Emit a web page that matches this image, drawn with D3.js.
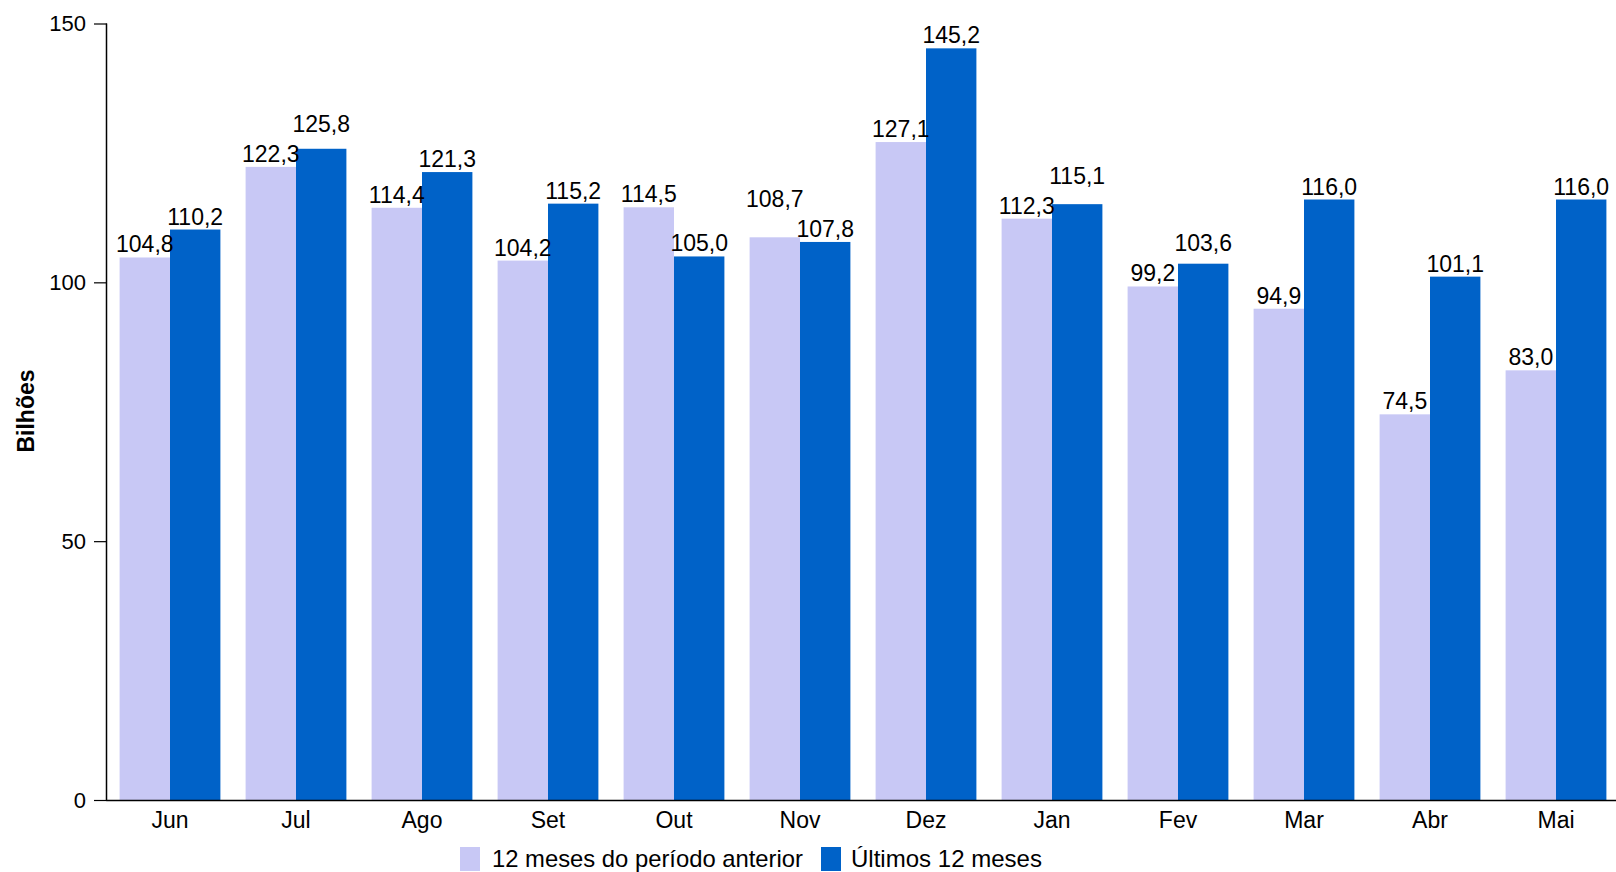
<!DOCTYPE html>
<html><head><meta charset="utf-8">
<script src="https://cdn.jsdelivr.net/npm/d3@7"></script>
<style>html,body{margin:0;padding:0;background:#fff;}svg{display:block;font-family:"Liberation Sans",Arial,sans-serif;}</style>
</head><body>
<svg id="c" width="1616" height="872"></svg>
<script>
const categories = ["Jun","Jul","Ago","Set","Out","Nov","Dez","Jan","Fev","Mar","Abr","Mai"];
const seriesNames = ["12 meses do período anterior","Últimos 12 meses"];
const previousValues = [104.8,122.3,114.4,104.2,114.5,108.7,127.1,112.3,99.2,94.9,74.5,83.0];
const lastValues = [110.2,125.8,121.3,115.2,105.0,107.8,145.2,115.1,103.6,116.0,101.1,116.0];
const yTicks = [0,50,100,150];
const colors = ["#c8c8f5","#0062c8"];

const svg = d3.select("#c");
const FONT = "Liberation Sans, Arial, sans-serif";
const x0 = 107, x1 = 1619, yTop = 23.5, yBot = 800;
const x = d3.scaleBand().domain(categories).range([x0, x1]).paddingInner(0.2).paddingOuter(0.1);
const xs = d3.scaleBand().domain([0,1]).range([0, x.bandwidth()]);
const y = d3.scaleLinear().domain([0,150]).range([yBot, yTop]);
const fmt = v => d3.format(".1f")(v).replace(".", ",");

const series = [previousValues, lastValues];
series.forEach((vals, si) => {
  svg.append("g").selectAll("rect").data(vals).join("rect")
    .attr("x", (d,i) => x(categories[i]) + xs(si))
    .attr("y", d => y(d))
    .attr("width", xs.bandwidth())
    .attr("height", d => y(0) - y(d))
    .attr("fill", colors[si]);
});

// value labels with simple collision avoidance: the higher label of a pair is lifted
const labelGap = 5, labelH = 24, liftTo = 30;
const labels = [];
categories.forEach((c, i) => {
  const b = [previousValues[i], lastValues[i]].map((v, si) => ({
    v, si, cx: x(c) + xs(si) + xs.bandwidth()/2, by: y(v) - labelGap
  }));
  const [lo, hi] = b[0].v <= b[1].v ? [b[0], b[1]] : [b[1], b[0]];
  if (lo.by - hi.by < labelH) hi.by = lo.by - liftTo;
  labels.push(b[0], b[1]);
});
svg.append("g").selectAll("text").data(labels).join("text")
  .attr("x", d => d.cx)
  .attr("y", d => d.by)
  .attr("text-anchor", "middle")
  .attr("font-size", 23)
  .attr("font-family", FONT)
  .attr("fill", "#000")
  .text(d => fmt(d.v));

// y axis
const ya = svg.append("g").attr("transform", `translate(${x0},0)`)
  .call(d3.axisLeft(y).tickValues(yTicks).tickSize(13).tickPadding(8).tickFormat(d3.format("d")));
ya.select(".domain").attr("stroke","#000").attr("stroke-width",1.5).attr("d", `M-0.5,${yTop}V${yBot}`);
ya.selectAll(".tick line").attr("stroke","#000").attr("stroke-width",1.2);
ya.selectAll(".tick text").attr("font-size",22).attr("fill","#000").attr("font-family",FONT);

// x axis
const xa = svg.append("g").attr("transform", `translate(0,${yBot})`)
  .call(d3.axisBottom(x).tickSize(0).tickPadding(12));
xa.select(".domain").attr("stroke","#000").attr("stroke-width",1.5).attr("d", `M${x0-0.5},0.5H1616`);
xa.selectAll(".tick text").attr("font-size",23).attr("fill","#000").attr("font-family",FONT);

// y title
svg.append("text")
  .attr("transform", "translate(34,411) rotate(-90)")
  .attr("text-anchor","middle")
  .attr("font-size",23).attr("font-weight","bold").attr("font-family",FONT)
  .text("Bilhões");

// legend
const legend = [{x:460, tx:492, w:311},{x:821, tx:851, w:191}];
legend.forEach((l, i) => {
  svg.append("rect").attr("x", l.x).attr("y", 847).attr("width", 20).attr("height", 24).attr("fill", colors[i]);
  svg.append("text").attr("x", l.tx).attr("y", 867).attr("font-size", 24).attr("font-family",FONT)
    .attr("textLength", l.w).attr("lengthAdjust","spacingAndGlyphs")
    .attr("fill","#000").text(seriesNames[i]);
});
</script>
</body></html>
